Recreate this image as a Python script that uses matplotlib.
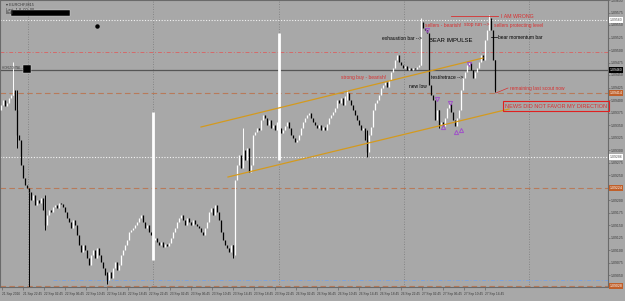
import numpy as np
import matplotlib
matplotlib.use("Agg")
import matplotlib.pyplot as plt
from matplotlib.patches import Rectangle

plt.rcParams['font.family'] = ['Liberation Sans', 'DejaVu Sans']

# ---------------- data ----------------
closes = [
    1.09390, 1.09400, 1.09388, 1.09394, 1.09404, 1.09410, 1.09420, 1.09380, 1.09330, 1.09320,
    1.09270, 1.09244, 1.09230, 1.09224, 1.09216, 1.09200, 1.09210, 1.09190, 1.09200, 1.09194,
    1.09204, 1.09180, 1.09150, 1.09170, 1.09180, 1.09176, 1.09186, 1.09190, 1.09184, 1.09194,
    1.09192, 1.09186, 1.09176, 1.09164, 1.09156, 1.09144, 1.09160, 1.09150, 1.09130, 1.09110,
    1.09096, 1.09110, 1.09100, 1.09084, 1.09070, 1.09090, 1.09100, 1.09084, 1.09104, 1.09090,
    1.09076, 1.09064, 1.09050, 1.09040, 1.09056, 1.09044, 1.09064, 1.09076, 1.09060, 1.09070,
    1.09090, 1.09100, 1.09110, 1.09120, 1.09136, 1.09140, 1.09144, 1.09150, 1.09156, 1.09164,
    1.09170, 1.09156, 1.09144, 1.09150, 1.09136, 1.09130, 1.09120, 1.09124, 1.09116, 1.09110,
    1.09116, 1.09106, 1.09112, 1.09108, 1.09114, 1.09124, 1.09136, 1.09144, 1.09156, 1.09164,
    1.09170, 1.09160, 1.09150, 1.09164, 1.09156, 1.09150, 1.09160, 1.09152, 1.09148, 1.09144,
    1.09136, 1.09130, 1.09144, 1.09156, 1.09176, 1.09184, 1.09170, 1.09190, 1.09176, 1.09160,
    1.09136, 1.09120, 1.09110, 1.09104, 1.09096, 1.09110, 1.09090, 1.09240, 1.09270, 1.09290,
    1.09264, 1.09300, 1.09280, 1.09304, 1.09256, 1.09270, 1.09330, 1.09336, 1.09344, 1.09340,
    1.09360, 1.09370, 1.09364, 1.09350, 1.09360, 1.09344, 1.09350, 1.09340, 1.09356, 1.09344,
    1.09334, 1.09340, 1.09348, 1.09356, 1.09344, 1.09330, 1.09324, 1.09316, 1.09320, 1.09330,
    1.09344, 1.09356, 1.09364, 1.09370, 1.09374, 1.09364, 1.09356, 1.09350, 1.09344, 1.09350,
    1.09340, 1.09346, 1.09340, 1.09352, 1.09364, 1.09370, 1.09376, 1.09384, 1.09400, 1.09394,
    1.09404, 1.09390, 1.09408, 1.09414, 1.09400, 1.09390, 1.09380, 1.09370, 1.09360, 1.09350,
    1.09340, 1.09344, 1.09320, 1.09296, 1.09330, 1.09346, 1.09380, 1.09394, 1.09400, 1.09410,
    1.09424, 1.09430, 1.09436, 1.09426, 1.09440, 1.09456, 1.09464, 1.09480, 1.09490, 1.09476,
    1.09470, 1.09464, 1.09468, 1.09460, 1.09464, 1.09460, 1.09464, 1.09462, 1.09466, 1.09470,
    1.09556, 1.09544, 1.09540, 1.09534, 1.09430, 1.09410, 1.09400, 1.09360, 1.09380, 1.09350,
    1.09356, 1.09348, 1.09364, 1.09384, 1.09392, 1.09376, 1.09360, 1.09348, 1.09364, 1.09380,
    1.09420, 1.09444, 1.09456, 1.09470, 1.09474, 1.09460, 1.09444, 1.09456, 1.09464, 1.09476,
    1.09490, 1.09480, 1.09520, 1.09540, 1.09564, 1.09540, 1.09480, 1.09420,
]
first_open = 1.09380

# notable wicks: bar index, low, high
wick_idx  = [6,       8,       14,      22,      53,      116,     121,     173,     183,     210,     219,     244,     247]
wick_low  = [1.09410, 1.09304, 1.09026, 1.09140, 1.09032, 1.09084, 1.09290, 1.09400, 1.09286, 1.09470, 1.09344, 1.09540, 1.09416]
wick_high = [1.09476, 1.09420, 1.09216, 1.09210, 1.09056, 1.09110, 1.09344, 1.09420, 1.09340, 1.09564, 1.09380, 1.09570, 1.09480]

# horizontal levels
lvl_white_dot = [1.09560, 1.09286]
lvl_red_dashdot = 1.09496
lvl_current = 1.09460
lvl_orange = [1.09414, 1.09224, 1.09028]
lvl_blue = 1.09040

# trend channel (bar index, price)
upper_line = ([100, 241], [1.09346, 1.09484])
lower_line = ([113.5, 254], [1.09246, 1.09382])

# white vertical markers (bar index, price from, price to)
vbars = [(76, 1.09376, 1.09080), (139, 1.09534, 1.09280)]

# time labels
time_labels = ["21 Sep 2016", "21 Sep 22:45", "22 Sep 02:45", "22 Sep 06:45", "22 Sep 10:45",
               "22 Sep 14:45", "22 Sep 18:45", "22 Sep 22:45", "23 Sep 02:45", "23 Sep 06:45",
               "23 Sep 10:45", "23 Sep 14:45", "23 Sep 18:45", "23 Sep 22:45", "26 Sep 02:45",
               "26 Sep 06:45", "26 Sep 10:45", "26 Sep 14:45", "26 Sep 18:45", "26 Sep 22:45",
               "27 Sep 02:45", "27 Sep 06:45", "27 Sep 10:45", "27 Sep 14:45"]

# purple arrows (bar index, price)
arrows_down = ([213, 234, 218, 224.5], [1.09540, 1.09472, 1.09402, 1.09394])
arrows_up = ([221, 227.5, 230], [1.09346, 1.09336, 1.09340])

# ---------------- figure ----------------
BG = "#a8a8a8"
fig = plt.figure(figsize=(6.25, 3.01), dpi=100)
fig.patch.set_facecolor(BG)
ax = fig.add_axes([0.0, 1 - 287 / 301, 608 / 625, 287 / 301])
ax.set_facecolor(BG)
ax.set_xlim(-0.5, 303.5)
ax.set_ylim(1.09026, 1.09600)

for s in ax.spines.values():
    s.set_color("#6a6a6a")
    s.set_linewidth(0.8)

# grid verticals
for gx in [13.5, 76, 139, 201.5, 264]:
    ax.axvline(gx, color="#7a7a7a", lw=0.6, ls=(0, (1, 2)), zorder=1)

# levels
for p in lvl_white_dot:
    ax.axhline(p, color="#f4f4f4", lw=0.8, ls=(0, (1, 1.5)), zorder=1)
ax.axhline(lvl_red_dashdot, color="#d46a6a", lw=0.7, ls=(0, (4, 2, 1, 2)), zorder=1)
ax.axhline(lvl_current, color="#555555", lw=0.9, zorder=1)
for p in lvl_orange:
    ax.axhline(p, color="#b87a5a", lw=0.8, ls=(0, (5, 3)), zorder=1)
ax.hlines(lvl_blue, 26, 303.5, color="#7fa3dc", lw=0.7, ls=(0, (4, 2, 1, 2)), zorder=1)

# candles
c = np.array(closes)
o = np.concatenate([[first_open], c[:-1]])
idx = np.arange(len(c))
up = c >= o
ax.vlines(idx[up], o[up], c[up], color="white", lw=0.9, zorder=3)
ax.vlines(idx[~up], o[~up], c[~up], color="black", lw=0.9, zorder=3)
for wi, lo, hi in zip(wick_idx, wick_low, wick_high):
    col = "white" if up[wi] else "black"
    ax.vlines(wi, lo, hi, color=col, lw=0.7, zorder=3)

# white vertical markers
for bx, p0, p1 in vbars:
    ax.vlines(bx, p1, p0, color="white", lw=2.0, zorder=4)

# channel
ax.plot(upper_line[0], upper_line[1], color="#d49a1e", lw=0.9, zorder=5)
ax.plot(lower_line[0], lower_line[1], color="#d49a1e", lw=0.9, zorder=5)

# arrows
ax.plot(arrows_down[0], arrows_down[1], ls="none", marker="v", ms=3, mfc="none", mec="#a052c8", mew=0.7, zorder=6)
ax.plot(arrows_up[0], arrows_up[1], ls="none", marker="^", ms=3, mfc="none", mec="#a052c8", mew=0.7, zorder=6)

# annotations
RED = "#d83030"
fs = 3.5
ax.plot([225, 248.5], [1.09568, 1.09568], color=RED, lw=0.6, zorder=6)
ax.text(250, 1.09568, "I AM WRONG", color=RED, fontsize=3.8, va="center", zorder=7)
ax.text(212, 1.09550, "sellers - bearish!", color=RED, fontsize=fs, va="center", zorder=7)
ax.text(231.5, 1.09552, "stop run -->", color=RED, fontsize=fs, va="center", zorder=7)
ax.text(246.5, 1.09550, "sellers protecting level", color=RED, fontsize=fs, va="center", zorder=7)
ax.text(214, 1.09520, "BEAR IMPULSE", color="black", fontsize=4.2, va="center", zorder=7)
ax.text(190.5, 1.09524, "exhaustion bar -->", color="black", fontsize=fs, va="center", zorder=7)
ax.plot([245, 248], [1.09526, 1.09526], color="black", lw=0.5, zorder=6)
ax.text(248.5, 1.09526, "bear momentum bar", color="black", fontsize=fs, va="center", zorder=7)
ax.text(215, 1.09446, "test/retrace -->", color="black", fontsize=fs, va="center", zorder=7)
ax.text(204, 1.09428, "new low", color="black", fontsize=fs, va="center", zorder=7)
ax.text(170, 1.09446, "strong buy - bearish!", color=RED, fontsize=fs, va="center", zorder=7)
ax.plot([247.5, 253.5], [1.09414, 1.09424], color=RED, lw=0.5, zorder=6)
ax.text(254.5, 1.09424, "remaining last scout now", color=RED, fontsize=fs, va="center", zorder=7)
ax.text(277.5, 1.09388, "NEWS DID NOT FAVOR MY DIRECTION", color=RED, fontsize=4.0,
        va="center", ha="center", zorder=7,
        bbox=dict(boxstyle="square,pad=0.4", fc="none", ec="#e02020", lw=0.8))

# ticks
ax.yaxis.tick_right()
yt = np.arange(1.09050, 1.09600, 0.00025)
ax.set_yticks(yt)
ax.set_yticklabels([f"{v:.5f}" for v in yt])
ax.tick_params(axis="y", labelsize=2.5, labelcolor="#3a3a3a", length=1.2, width=0.4, color="#555555", pad=0.8)
xt = [0.5 + 10.5 * k for k in range(len(time_labels))]
ax.set_xticks(xt)
ax.set_xticklabels(time_labels, ha="left")
ax.tick_params(axis="x", labelsize=2.3, labelcolor="#3a3a3a", length=2, width=0.4, color="#555555", pad=1.5)

# price label boxes on right scale
def price_box(p, fc, tc):
    ax.text(1.003, p, f"{p:.5f}", transform=ax.get_yaxis_transform(), fontsize=2.5, color=tc,
            va="center", ha="left", zorder=8, clip_on=False,
            bbox=dict(boxstyle="square,pad=0.2", fc=fc, ec="none"))

price_box(lvl_white_dot[0], "white", "#555555")
price_box(lvl_current, "black", "white")
price_box(lvl_orange[0], "#c0602a", "white")
price_box(lvl_white_dot[1], "white", "#555555")
price_box(lvl_orange[1], "#c0602a", "white")
price_box(lvl_orange[2], "#c0602a", "white")

# top-left info
fig.text(6 / 625, 1 - 5 / 301, "\u25be EURCHF,M15", fontsize=2.8, color="#333333", va="center")
fig.text(6 / 625, 1 - 10 / 301, "Last  1.0  00  00", fontsize=2.8, color="#333333", va="center")
fig.text(6 / 625, 1 - 13.5 / 301, "Bold", fontsize=2.8, color="#333333", va="center")
fig.patches.append(Rectangle((11 / 625, 1 - 16 / 301), 59 / 625, 6 / 301, transform=fig.transFigure,
                             fc="black", ec="#dddddd", lw=0.3))
fig.patches.append(Rectangle((23 / 625, 1 - 73 / 301), 8 / 625, 8 / 301, transform=fig.transFigure,
                             fc="black", ec="#dddddd", lw=0.3))
fig.text(2 / 625, 1 - 68 / 301, "HORIZONTAL ---", fontsize=2.2, color="#444444", va="center")
ax.plot([48], [1.09548], marker="o", ms=2.2, color="black", zorder=8)

fig.savefig("out.png", dpi=100, facecolor=BG)
